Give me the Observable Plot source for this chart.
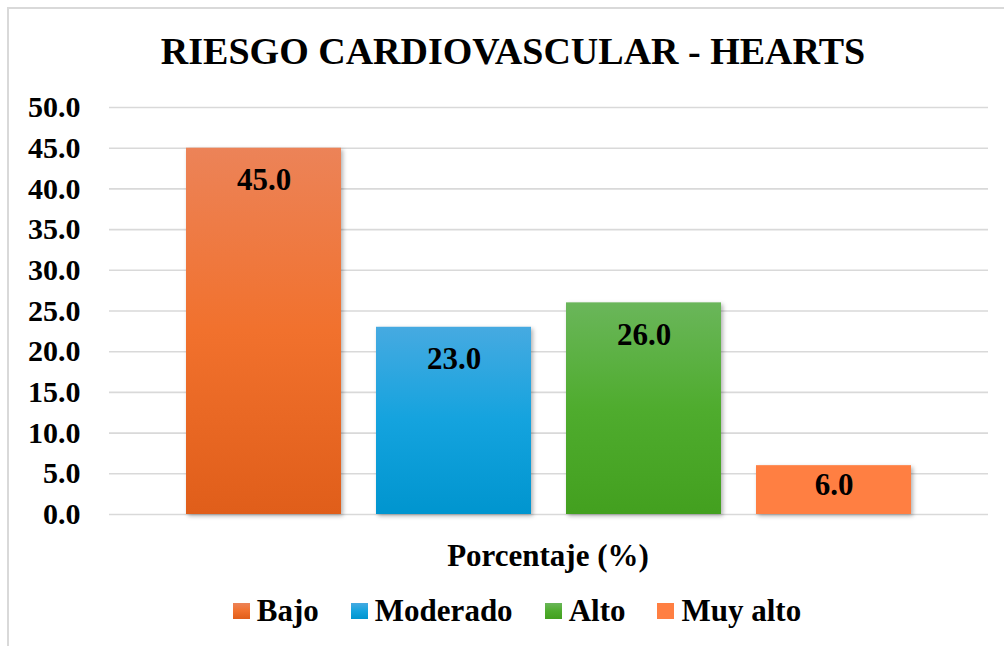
<!DOCTYPE html>
<html><head><meta charset="utf-8">
<script src="https://cdn.jsdelivr.net/npm/d3@7"></script>
<script src="https://cdn.jsdelivr.net/npm/@observablehq/plot@0.6"></script>
<style>
body{margin:0;background:#fff;}
#wrap{position:relative;width:1004px;height:646px;overflow:hidden;font-family:"Liberation Serif","Times New Roman",serif;font-weight:bold;color:#000;background:#fff;}
#frame{position:absolute;left:7px;top:7px;width:1100px;height:700px;border-left:2px solid #d9d9d9;border-top:2px solid #d9d9d9;box-sizing:border-box;}
#title{position:absolute;left:0;width:1026px;top:32px;text-align:center;font-size:38px;line-height:1;white-space:nowrap;}
#chart{position:absolute;left:0;top:80px;}
#xlabel{position:absolute;left:0;width:1096px;top:540px;text-align:center;font-size:31px;line-height:1;white-space:nowrap;}
#legend{position:absolute;left:0;width:1034px;top:595px;display:flex;justify-content:center;align-items:center;gap:32px;font-size:31px;line-height:1;white-space:nowrap;}
.item{display:flex;align-items:center;gap:7px;}
.sw{width:17px;height:16px;display:inline-block;margin-top:1px;}
</style>
</head>
<body>
<div id="wrap">
  <div id="frame"></div>
  <div id="title">RIESGO CARDIOVASCULAR - HEARTS</div>
  <div id="chart"></div>
  <div id="xlabel">Porcentaje (%)</div>
  <div id="legend"></div>
</div>
<script>
const categories = ["Bajo", "Moderado", "Alto", "Muy alto"];
const values = [45.0, 23.0, 26.0, 6.0];
const yTicks = [0, 5, 10, 15, 20, 25, 30, 35, 40, 45, 50];
const topColors = ["#EC8358", "#46AAE1", "#6AB65A", "#FF7F42"];
const midColors = ["#F1712D", "#14A3DE", "#4FAC2E", "#FF7F42"];
const bottomColors = ["#E05E1A", "#0095CF", "#43A01F", "#FF7F42"];

const data = categories.map((c, i) => ({category: c, value: values[i], idx: i}));

const defs = () => {
  const d = d3.create("svg:defs");
  categories.forEach((c, i) => {
    const g = d.append("linearGradient").attr("id", "grad" + i)
      .attr("x1", 0).attr("y1", 0).attr("x2", 0).attr("y2", 1);
    g.append("stop").attr("offset", "0%").attr("stop-color", topColors[i]);
    g.append("stop").attr("offset", "50%").attr("stop-color", midColors[i]);
    g.append("stop").attr("offset", "100%").attr("stop-color", bottomColors[i]);
  });
  return d.node();
};

const chart = Plot.plot({
  width: 1004,
  height: 460,
  marginTop: 27,
  marginBottom: 26,
  marginLeft: 109,
  marginRight: 16,
  style: {background: "transparent", overflow: "visible", fontFamily: "'Liberation Serif', 'Times New Roman', serif", fontWeight: "bold", fontSize: "30px", color: "#000"},
  x: {domain: categories, paddingInner: 0.186, paddingOuter: 0.4, axis: null},
  y: {domain: [0, 50], ticks: yTicks, tickFormat: d => d.toFixed(1), tickSize: 0, tickPadding: 29, label: null},
  marks: [
    defs,
    Plot.ruleY(yTicks, {stroke: "#d9d9d9", strokeWidth: 1.6}),
    ...categories.map((c, i) => Plot.barY(data.filter(d => d.category === c), {x: "category", y: "value", fill: `url(#grad${i})`})),
    Plot.text(data, {
      x: "category",
      y: d => d.value >= 10 ? d.value - 3.93 : d.value / 2 + 0.6,
      text: d => d.value.toFixed(1),
      fontSize: 31,
      fontWeight: "bold",
      fill: "#000"
    })
  ]
});
chart.querySelectorAll('g[aria-label="bar"]').forEach(g => {
  g.style.filter = "drop-shadow(2px 2px 2px rgba(0,0,0,0.3))";
});
document.getElementById("chart").appendChild(chart);

const legend = document.getElementById("legend");
categories.forEach((c, i) => {
  const item = document.createElement("div");
  item.className = "item";
  const sw = document.createElement("span");
  sw.className = "sw";
  sw.style.background = `linear-gradient(${topColors[i]}, ${midColors[i]}, ${bottomColors[i]})`;
  const t = document.createElement("span");
  t.textContent = c;
  item.appendChild(sw);
  item.appendChild(t);
  legend.appendChild(item);
});
</script>
</body></html>
